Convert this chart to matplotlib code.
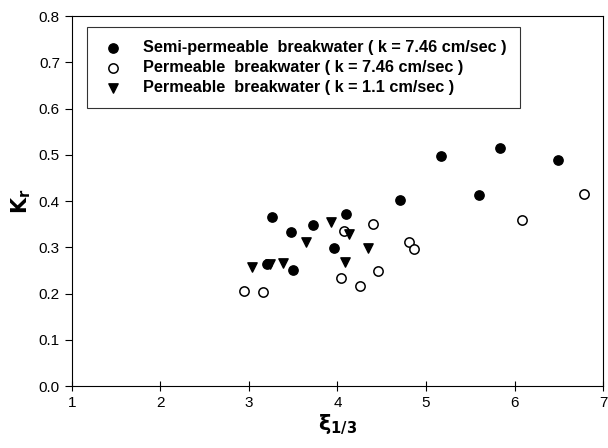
import matplotlib
matplotlib.use("Agg")
import matplotlib.pyplot as plt

plt.rcParams['font.family'] = ['Liberation Sans', 'DejaVu Sans']

# semi-permeable, k = 7.46
semi_x = [3.26, 3.48, 3.21, 3.50, 3.72, 4.10, 3.96, 4.71, 5.17, 5.84, 6.49, 5.60]
semi_y = [0.365, 0.334, 0.265, 0.252, 0.348, 0.373, 0.299, 0.402, 0.497, 0.515, 0.489, 0.413]

# permeable, k = 7.46
perm_x = [2.94, 3.16, 4.07, 4.40, 4.81, 4.86, 4.46, 4.04, 4.25, 6.08, 6.78]
perm_y = [0.206, 0.203, 0.335, 0.350, 0.312, 0.296, 0.249, 0.233, 0.216, 0.359, 0.415]

# permeable, k = 1.1
perm2_x = [3.04, 3.24, 3.39, 3.65, 3.93, 4.13, 4.09, 4.34]
perm2_y = [0.257, 0.265, 0.266, 0.311, 0.356, 0.330, 0.269, 0.298]

labels = ["Semi-permeable  breakwater ( k = 7.46 cm/sec )",
          "Permeable  breakwater ( k = 7.46 cm/sec )",
          "Permeable  breakwater ( k = 1.1 cm/sec )"]

fig = plt.figure(figsize=(6.08, 4.48), dpi=100)
ax = fig.add_axes([0.118, 0.138, 0.874, 0.826])

ax.scatter(semi_x, semi_y, s=45, marker="o", color="black", label=labels[0], zorder=3)
ax.scatter(perm_x, perm_y, s=45, marker="o", facecolors="white", edgecolors="black",
           linewidths=1.1, label=labels[1], zorder=3)
ax.scatter(perm2_x, perm2_y, s=45, marker="v", color="black", label=labels[2], zorder=3)

ax.set_xlim(1, 7)
ax.set_ylim(0, 0.8)
ax.set_xticks(range(1, 8))
ax.set_yticks([i / 10 for i in range(9)])
ax.set_yticklabels([f"{i / 10:.1f}" for i in range(9)])
ax.tick_params(axis="x", direction="inout", length=7, labelsize=11, width=0.8)
ax.tick_params(axis="y", direction="out", length=5, labelsize=11, width=0.8)
for sp in ax.spines.values():
    sp.set_linewidth(0.8)

ax.set_xlabel(r"$\mathbf{\xi_{1/3}}$", fontsize=15, labelpad=2)
ax.set_ylabel(r"$\mathbf{K_r}$", fontsize=15, labelpad=4)

leg = ax.legend(loc="upper left", bbox_to_anchor=(0.028, 0.970), frameon=True, fancybox=False,
                edgecolor="black", prop={"weight": "bold", "size": 11.7}, handletextpad=1.1,
                borderpad=0.8, labelspacing=0.3, handlelength=1.6, borderaxespad=0)
leg.get_frame().set_linewidth(0.8)

fig.savefig("out.png", dpi=100)
